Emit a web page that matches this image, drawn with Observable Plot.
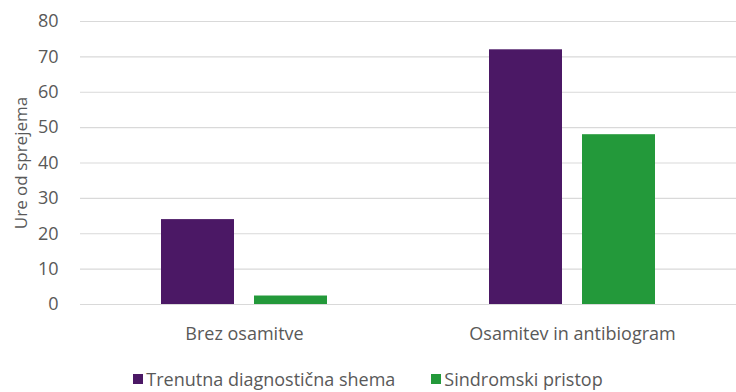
<!DOCTYPE html>
<html>
<head>
<meta charset="utf-8">
<script src="https://cdn.jsdelivr.net/npm/d3@7"></script>
<script src="https://cdn.jsdelivr.net/npm/@observablehq/plot@0.6"></script>
<style>
  html, body { margin: 0; padding: 0; background: #fff; }
  #chart { width: 736px; height: 392px; position: relative; font-family: "Open Sans", sans-serif; color: #595959; }
  .legend { position: absolute; top: 367px; left: 0; width: 736px; display: flex; justify-content: center; gap: 36px; font-size: 18px; line-height: 24px; }
  .item { display: flex; align-items: center; }
  .sw { width: 10px; height: 10px; margin-right: 3px; }
</style>
</head>
<body>
<div id="chart"></div>
<script>
const groups = ["Brez osamitve", "Osamitev in antibiogram"];
const series = ["Trenutna diagnostična shema", "Sindromski pristop"];
const trenutna = [24, 72];
const sindromski = [2.4, 48];
const colors = ["#4b1865", "#23993a"];
const yTicks = [0, 10, 20, 30, 40, 50, 60, 70, 80];

const data = groups.flatMap((g, i) => [
  {group: g, series: series[0], value: trenutna[i]},
  {group: g, series: series[1], value: sindromski[i]}
]);

const plot = Plot.plot({
  width: 736,
  height: 350,
  marginLeft: 79,
  marginRight: 0,
  marginTop: 21,
  marginBottom: 46,
  style: {fontFamily: "Open Sans, sans-serif", fontSize: "18px", color: "#595959", background: "#fff"},
  fx: {domain: groups, padding: 0, label: null, tickSize: 0, tickPadding: 23, axis: "bottom"},
  x: {domain: series, axis: null, paddingInner: 0.213, paddingOuter: 0.86},
  y: {domain: [0, 80], axis: null},
  color: {domain: series, range: colors},
  marks: [
    Plot.ruleY(yTicks, {stroke: "#d9d9d9", strokeWidth: 1.2}),
    Plot.barY(data, {fx: "group", x: "series", y: "value", fill: "series"}),
    Plot.axisY({ticks: yTicks, tickSize: 0, tickPadding: 22, label: null, fill: "#595959"}),
    Plot.axisY({ticks: [], tickSize: 0, label: "Ure od sprejema", labelAnchor: "center", labelArrow: "none", labelOffset: 66, fontSize: 17, fill: "#595959"})
  ]
});
const chart = document.getElementById("chart");
chart.appendChild(plot);

const legend = document.createElement("div");
legend.className = "legend";
series.forEach((s, i) => {
  const item = document.createElement("div");
  item.className = "item";
  const sw = document.createElement("span");
  sw.className = "sw";
  sw.style.background = colors[i];
  const t = document.createElement("span");
  t.textContent = s;
  item.appendChild(sw);
  item.appendChild(t);
  legend.appendChild(item);
});
chart.appendChild(legend);
</script>
</body>
</html>
